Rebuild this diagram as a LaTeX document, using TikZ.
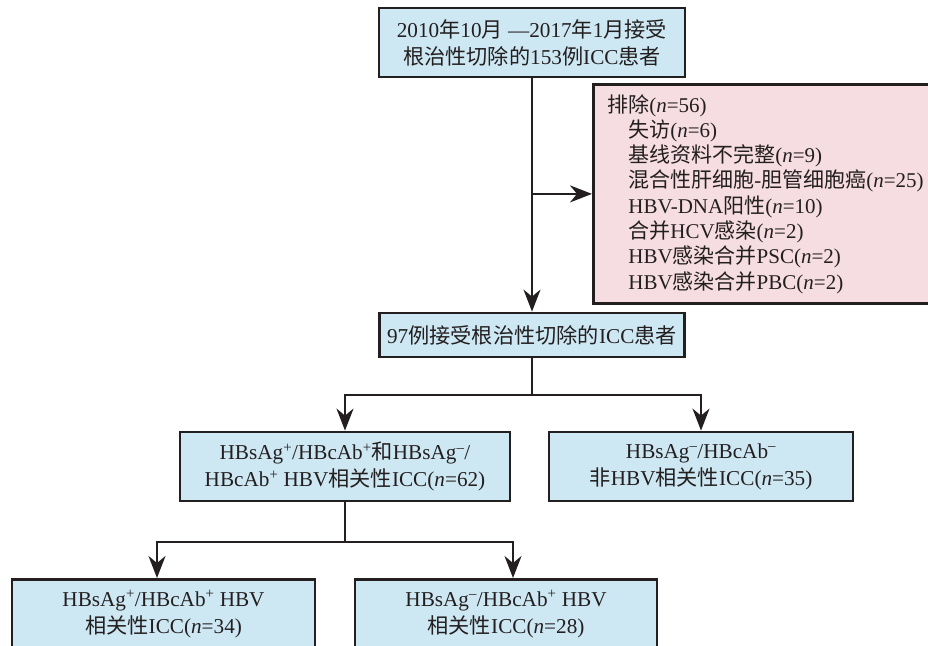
\documentclass[tikz,border=0pt]{standalone}
\usepackage{fontspec}
\setmainfont{Liberation Serif}
\newfontfamily\cjk{Noto Sans CJK SC}
\newcommand{\zh}[1]{{\cjk #1}}
\newcommand{\sps}{\textsuperscript{+}}
\newcommand{\sms}{\textsuperscript{–}}
\usetikzlibrary{arrows.meta}
\definecolor{boxblue}{RGB}{206,232,243}
\definecolor{boxpink}{RGB}{246,221,225}
\definecolor{ink}{RGB}{35,31,32}
\tikzset{
  x=1pt, y=-1pt,
  flowbox/.style={draw=ink, line width=2.8pt, fill=boxblue, inner sep=0pt,
    align=center, text=ink, font=\fontsize{21.2}{27}\selectfont},
  exclbox/.style={draw=ink, line width=2.8pt, fill=boxpink, inner xsep=14pt, inner ysep=0pt,
    align=left, text=ink, font=\fontsize{21}{25.3}\selectfont},
  arr/.style={draw=ink, line width=2pt, -{Stealth[length=22pt,width=17pt,inset=7pt]}},
  ln/.style={draw=ink, line width=2pt},
}
\begin{document}
\begin{tikzpicture}
\useasboundingbox (0,0) rectangle (928,645);
% top box: 377-683, 8-77
\node[flowbox, minimum width=306pt, minimum height=69pt] (top) at (532,42.5)
  {2010\zh{年}10\zh{月} —2017\zh{年}1\zh{月接受}\\\zh{根治性切除的}153\zh{例}ICC\zh{患者}};
% exclusion box: 592-..., 83-302
\node[exclbox, anchor=north west, minimum width=345pt, minimum height=219pt, text width=317pt] (excl) at (592,83)
  {\zh{排除}(\textit{n}=56)\\
   \hspace*{21pt}\zh{失访}(\textit{n}=6)\\
   \hspace*{21pt}\zh{基线资料不完整}(\textit{n}=9)\\
   \hspace*{21pt}\zh{混合性肝细胞}-\zh{胆管细胞癌}(\textit{n}=25)\\
   \hspace*{21pt}HBV-DNA\zh{阳性}(\textit{n}=10)\\
   \hspace*{21pt}\zh{合并}HCV\zh{感染}(\textit{n}=2)\\
   \hspace*{21pt}HBV\zh{感染合并}PSC(\textit{n}=2)\\
   \hspace*{21pt}HBV\zh{感染合并}PBC(\textit{n}=2)};
% 97 box: 378-683, 313-357
\node[flowbox, minimum width=305pt, minimum height=44pt] (mid) at (532,335)
  {97\zh{例接受根治性切除的}ICC\zh{患者}};
% mid left: 180-510, 432-501
\node[flowbox, minimum width=330pt, minimum height=69pt] (ml) at (345,466.5)
  {HBsAg\sps/HBcAb\sps\zh{和}HBsAg\sms/\\HBcAb\sps{} HBV\zh{相关性}ICC(\textit{n}=62)};
% mid right: 549-853, 432-501
\node[flowbox, minimum width=304pt, minimum height=69pt] (mr) at (701,466.5)
  {HBsAg\sms/HBcAb\sms\\\zh{非}HBV\zh{相关性}ICC(\textit{n}=35)};
% bottom left: 12-315, 578-...
\node[flowbox, anchor=north, minimum width=303pt, minimum height=69pt] (bl) at (163.5,578)
  {HBsAg\sps/HBcAb\sps{} HBV\\\zh{相关性}ICC(\textit{n}=34)};
% bottom right: 355-657, 578-...
\node[flowbox, anchor=north, minimum width=302pt, minimum height=69pt] (br) at (506,578)
  {HBsAg\sms/HBcAb\sps{} HBV\\\zh{相关性}ICC(\textit{n}=28)};
% connectors
\draw[arr] (top.south) -- (mid.north);
\coordinate (b1) at (excl.west -| top.south);
\draw[arr] (b1) -- (excl.west);
\draw[ln] (mid.south) -- ++(0,37) coordinate (j1);
\draw[arr] (j1) -| (ml.north);
\draw[arr] (j1) -| (mr.north);
\draw[ln] (ml.south) -- ++(0,40) coordinate (j2);
\coordinate (t1) at ([xshift=-6.5pt]bl.north);
\coordinate (t2) at ([xshift=7pt]br.north);
\draw[arr] (j2) -| (t1);
\draw[arr] (j2) -| (t2);
\end{tikzpicture}
\end{document}
